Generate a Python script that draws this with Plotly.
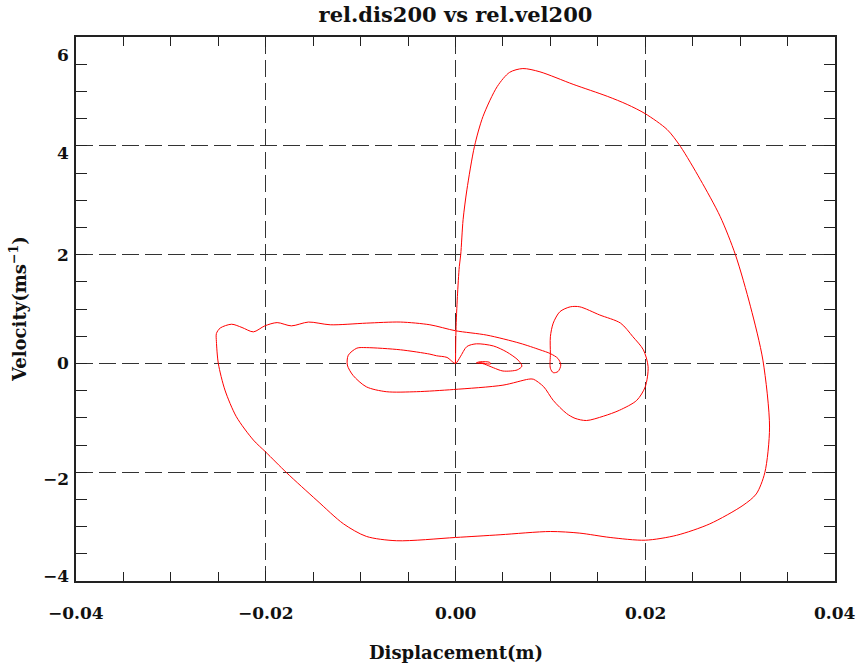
import plotly.graph_objects as go

# Phase trajectory (displacement m, velocity m/s)
disp = [
    0.0000, 0.00005, 0.0002, 0.0004, 0.00055, 0.0008, 0.0012, 0.0020, 0.0029, 0.0044,
    0.0057, 0.0071, 0.0089, 0.0124, 0.0160, 0.0181, 0.0200, 0.0223, 0.0237, 0.0258,
    0.0279, 0.0295, 0.0311, 0.0324, 0.0331, 0.0326, 0.0317, 0.0303, 0.0268, 0.0233,
    0.0200, 0.0163, 0.0131, 0.0100, 0.0047, 0.0000, -0.0062, -0.0094, -0.0118, -0.0146,
    -0.0178, -0.0200, -0.0213, -0.0231, -0.0243, -0.0250, -0.0252, -0.0252, -0.0248, -0.0236,
    -0.0225, -0.0213, -0.0201, -0.0188, -0.0173, -0.0155, -0.0132, -0.0094, -0.0058, -0.0027,
    0.0000, 0.0033, 0.0068, 0.0089, 0.0100, 0.0108, 0.0111, 0.0108, 0.0103, 0.0100,
    0.0100, 0.0100, 0.0103, 0.0110, 0.0121, 0.0131, 0.0152, 0.0174, 0.0187, 0.0198,
    0.0203, 0.0200, 0.0191, 0.0173, 0.0156, 0.0138, 0.0126, 0.0117, 0.0103, 0.0093,
    0.0082, 0.0077, 0.0050, -0.0002, -0.0041, -0.0073, -0.0094, -0.0108, -0.0114, -0.0113,
    -0.0104, -0.0094, -0.0058, -0.0027, -0.0020, -0.0009, 0.0000, 0.0005, 0.0012, 0.0022,
    0.0040, 0.0054, 0.0066, 0.0070, 0.0065, 0.0050, 0.0040, 0.0033, 0.0028, 0.0022,
    0.0026, 0.0036, 0.0037, 0.0030, 0.0025, 0.0031,
]
vel = [
    0.00, 0.61, 1.23, 1.78, 2.00, 2.64, 3.19, 3.99, 4.54, 5.09,
    5.35, 5.42, 5.36, 5.13, 4.91, 4.76, 4.59, 4.30, 3.99, 3.38,
    2.70, 2.00, 1.04, 0.06, -1.17, -2.01, -2.40, -2.61, -2.95, -3.16,
    -3.25, -3.20, -3.12, -3.09, -3.15, -3.20, -3.26, -3.18, -2.95, -2.52,
    -2.01, -1.63, -1.41, -0.98, -0.49, 0.00, 0.40, 0.55, 0.65, 0.72,
    0.66, 0.58, 0.69, 0.75, 0.69, 0.76, 0.71, 0.74, 0.76, 0.71,
    0.60, 0.52, 0.37, 0.25, 0.18, 0.09, -0.03, -0.15, -0.17, -0.09,
    0.18, 0.49, 0.74, 0.95, 1.04, 1.04, 0.89, 0.74, 0.49, 0.25,
    -0.06, -0.43, -0.68, -0.86, -0.97, -1.05, -1.01, -0.92, -0.68, -0.43,
    -0.29, -0.29, -0.40, -0.48, -0.52, -0.52, -0.43, -0.22, -0.03, 0.15,
    0.28, 0.29, 0.25, 0.17, 0.14, 0.11, 0.00, 0.12, 0.31, 0.36,
    0.32, 0.21, 0.06, -0.05, -0.12, -0.14, -0.08, -0.03, 0.00, 0.01,
    0.03, 0.02, -0.01, 0.00, 0.01, 0.00,
]

x_ticks = [-0.04, -0.02, 0.00, 0.02, 0.04]
x_tick_text = ["\u22120.04", "\u22120.02", "0.00", "0.02", "0.04"]
y_ticks = [-4, -2, 0, 2, 4, 6]
y_tick_text = ["\u22124", "\u22122", "0", "2", "4", "6"]
y_label_shift = [5, -7, 0, 0, -7, -18]

title_text = "rel.dis200 vs rel.vel200"
x_title = "Displacement(m)"
y_title = "Velocity(ms<sup>\u22121</sup>)"

FONT = "DejaVu Serif"
AX = "#222222"
TXT = "#111111"

fig = go.Figure()
fig.add_trace(go.Scatter(
    x=disp, y=vel, mode="lines",
    line=dict(color="#ff0000", width=1, shape="spline", smoothing=0.8),
    hoverinfo="skip", showlegend=False,
))

grid = dict(showgrid=True, gridcolor="#333333", gridwidth=1.2, griddash="17px,6px")

fig.update_xaxes(
    range=[-0.04, 0.04], tickvals=x_ticks, showticklabels=False,
    ticks="inside", ticklen=10, tickcolor=AX, tickwidth=1,
    showline=True, linecolor=AX, linewidth=1.5, mirror="allticks",
    zeroline=False,
    minor=dict(dtick=0.005, tick0=0, ticks="inside", ticklen=9, tickcolor=AX, tickwidth=1, showgrid=False),
    **grid,
)
fig.update_yaxes(
    range=[-4, 6], tickvals=y_ticks, showticklabels=False,
    ticks="inside", ticklen=11, tickcolor=AX, tickwidth=1,
    showline=True, linecolor=AX, linewidth=1.5, mirror="allticks",
    zeroline=False,
    minor=dict(dtick=0.5, tick0=0, ticks="inside", ticklen=11, tickcolor=AX, tickwidth=1, showgrid=False),
    **grid,
)

tick_font = dict(family=FONT, size=17, color=TXT, weight="bold")
label_font = dict(family=FONT, size=18, color=TXT, weight="bold")
annotations = []
for v, t in zip(x_ticks, x_tick_text):
    annotations.append(dict(x=v, xref="x", y=0, yref="paper", yanchor="middle",
                            yshift=-32, text=t, showarrow=False, font=tick_font))
for v, t, s in zip(y_ticks, y_tick_text, y_label_shift):
    annotations.append(dict(x=0, xref="paper", xanchor="right", xshift=-5,
                            y=v, yref="y", yanchor="middle", yshift=s, text=t,
                            showarrow=False, font=tick_font))
annotations.append(dict(x=0.5, xref="paper", y=0, yref="paper", yanchor="middle",
                        yshift=-71, text=x_title, showarrow=False, font=label_font))
annotations.append(dict(x=0, xref="paper", xanchor="center", xshift=-58,
                        y=0.5, yref="paper", yanchor="middle", text=y_title,
                        textangle=-90, showarrow=False, font=label_font))

fig.update_layout(
    width=856, height=666,
    margin=dict(l=76, r=21, t=37, b=85),
    paper_bgcolor="white", plot_bgcolor="white",
    title=dict(text=title_text, x=0.5, xref="paper", xanchor="center",
               y=1 - 15 / 666, yanchor="middle",
               font=dict(family=FONT, size=21, color=TXT, weight="bold")),
    annotations=annotations,
)

fig.write_html("out.html", config={"displayModeBar": False},
               post_script="document.body.style.margin='0';document.body.style.overflow='hidden';")
